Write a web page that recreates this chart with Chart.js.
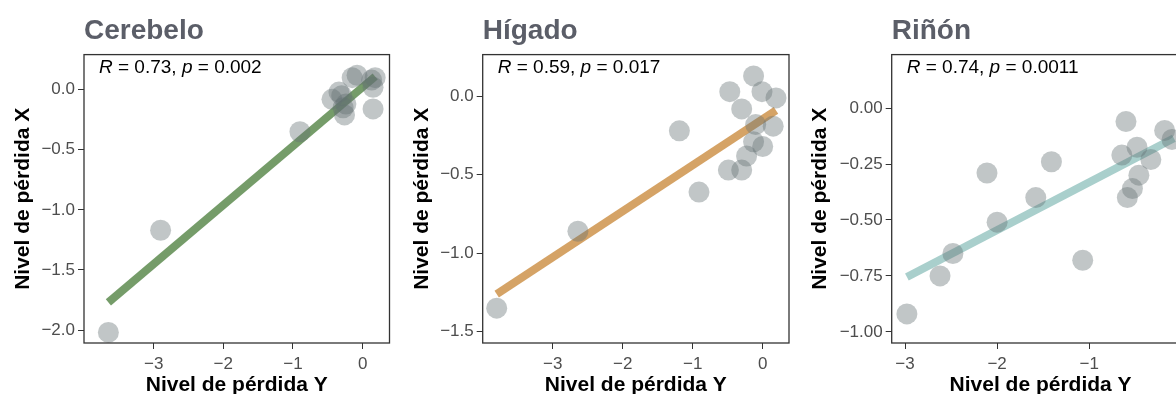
<!DOCTYPE html>
<html>
<head>
<meta charset="utf-8">
<title>Nivel de pérdida</title>
<script src="https://cdn.jsdelivr.net/npm/chart.js@4.4.1/dist/chart.umd.min.js"></script>
<style>
  html, body { margin: 0; padding: 0; background: #fff; overflow: hidden; }
  #fila { position: relative; width: 1176px; height: 394px; overflow: hidden; }
  .panel { position: absolute; top: 0; width: 400px; height: 394px; }
</style>
</head>
<body>
<div id="fila">
  <div class="panel" style="left:0"><canvas id="cerebeloChart"></canvas></div>
  <div class="panel" style="left:400px"><canvas id="higadoChart"></canvas></div>
  <div class="panel" style="left:800px"><canvas id="rinonChart"></canvas></div>
</div>
<script>
// Cerebelo
const cerebeloPerdidaY = [-3.65, -2.90, -0.90, -0.44, -0.34, -0.30, -0.24, -0.26, -0.28, -0.15, -0.08, 0.13, 0.18, 0.15, 0.15];
const cerebeloPerdidaX = [-2.02, -1.17, -0.35, -0.08, -0.02, -0.05, -0.12, -0.21, -0.15, 0.10, 0.12, 0.08, 0.10, 0.02, -0.16];
const cerebeloAjusteY = [-3.65, 0.18];
const cerebeloAjusteX = [-1.77, 0.11];
const cerebeloTicksV = [-2, -1.5, -1, -0.5, 0];

// Hígado
const higadoPerdidaY = [-3.80, -2.64, -1.19, -0.91, -0.47, -0.13, -0.01, 0.19, -0.30, -0.10, 0.15, -0.13, 0.00, -0.23, -0.49, -0.30];
const higadoPerdidaX = [-1.35, -0.86, -0.22, -0.61, 0.03, 0.13, 0.03, -0.01, -0.08, -0.18, -0.19, -0.29, -0.32, -0.38, -0.47, -0.47];
const higadoAjusteY = [-3.80, 0.19];
const higadoAjusteX = [-1.26, -0.09];
const higadoTicksV = [-1.5, -1, -0.5, 0];

// Riñón
const rinonPerdidaY = [-2.98, -2.62, -2.48, -2.11, -2.00, -1.58, -1.41, -1.07, -0.60, -0.645, -0.48, -0.33, -0.46, -0.53, -0.585, -0.18, -0.10];
const rinonPerdidaX = [-0.92, -0.75, -0.65, -0.29, -0.51, -0.40, -0.24, -0.68, -0.06, -0.21, -0.175, -0.23, -0.30, -0.36, -0.40, -0.10, -0.14];
const rinonAjusteY = [-2.98, -0.08];
const rinonAjusteX = [-0.755, -0.135];
const rinonTicksV = [-1, -0.75, -0.5, -0.25, 0];

// shared horizontal ticks and correlation labels
const ticksH = [-3, -2, -1, 0];
const corR = ['0.73', '0.59', '0.74'];
const corP = ['0.002', '0.017', '0.0011'];

Chart.defaults.font.family = '"Liberation Sans", Arial, Helvetica, sans-serif';

const menos = (txt) => txt.replace('-', '\u2212');

// box around the plotting area
const marcoPanel = {
  id: 'marcoPanel',
  afterDatasetsDraw(chart) {
    const { ctx, chartArea: { left, top, right, bottom } } = chart;
    ctx.save();
    ctx.strokeStyle = '#333333';
    ctx.lineWidth = 1.3;
    ctx.strokeRect(left, top, right - left, bottom - top);
    ctx.restore();
  }
};

// "R = .., p = .." with italic R and p
const etiquetaCor = {
  id: 'etiquetaCor',
  afterDraw(chart, args, opts) {
    const { ctx, chartArea } = chart;
    const partes = [['italic', 'R'], ['normal', ' = ' + opts.r + ', '], ['italic', 'p'], ['normal', ' = ' + opts.p]];
    let x = chartArea.left + 15;
    const y = chartArea.top + 18.5;
    ctx.save();
    ctx.fillStyle = '#000000';
    ctx.textBaseline = 'alphabetic';
    partes.forEach(([estilo, txt]) => {
      ctx.font = estilo + ' 19px "Liberation Sans", Arial, sans-serif';
      ctx.fillText(txt, x, y);
      x += ctx.measureText(txt).width;
    });
    ctx.restore();
  }
};

function crearPanel(id, cfg) {
  const puntos = cfg.puntosY.map((v, i) => ({ x: v, y: cfg.puntosX[i] }));
  const ajuste = cfg.ajusteY.map((v, i) => ({ x: v, y: cfg.ajusteX[i] }));

  return new Chart(document.getElementById(id), {
    type: 'scatter',
    data: {
      datasets: [
        {
          data: puntos,
          backgroundColor: 'rgba(100, 112, 116, 0.4)',
          borderWidth: 0,
          pointRadius: 10.5,
          pointHoverRadius: 10.5
        },
        {
          data: ajuste,
          showLine: true,
          borderColor: cfg.color,
          borderWidth: 8,
          pointRadius: 0,
          fill: false
        }
      ]
    },
    options: {
      responsive: true,
      maintainAspectRatio: false,
      animation: false,
      layout: { padding: { left: 0, right: cfg.derecha, top: 0, bottom: 0 } },
      plugins: {
        legend: { display: false },
        tooltip: { enabled: false },
        title: {
          display: true,
          text: cfg.titulo,
          align: 'start',
          fullSize: false,
          color: '#5b5e68',
          font: { size: 28, weight: 'bold' },
          padding: { top: 14, bottom: 7 }
        },
        etiquetaCor: { r: cfg.r, p: cfg.p }
      },
      scales: {
        x: {
          type: 'linear',
          min: cfg.xMin,
          max: cfg.xMax,
          afterBuildTicks: (axis) => { axis.ticks = ticksH.map((v) => ({ value: v })); },
          afterFit: (scale) => { scale.height = 51; },
          border: { display: false },
          grid: { drawOnChartArea: false, drawTicks: true, tickLength: 6, tickColor: '#333333' },
          ticks: {
            color: '#4d4d4d',
            font: { size: 17 },
            padding: 5,
            maxRotation: 0,
            callback: (v) => menos(String(v))
          },
          title: {
            display: true,
            text: 'Nivel de pérdida Y',
            color: '#000000',
            font: { size: 21, weight: 'bold', lineHeight: 1 },
            padding: { top: 0, bottom: -1.5 }
          }
        },
        y: {
          type: 'linear',
          min: cfg.yMin,
          max: cfg.yMax,
          afterBuildTicks: (axis) => { axis.ticks = cfg.ticksV.map((v) => ({ value: v })); },
          afterFit: (scale) => { scale.width = cfg.anchoY; },
          border: { display: false },
          grid: { drawOnChartArea: false, drawTicks: true, tickLength: 6, tickColor: '#333333' },
          ticks: {
            color: '#4d4d4d',
            font: { size: 17 },
            padding: 3,
            callback: (v) => menos(v.toFixed(cfg.decimales))
          },
          title: {
            display: true,
            text: 'Nivel de pérdida X',
            color: '#000000',
            font: { size: 21, weight: 'bold', lineHeight: 1.2 },
            padding: { top: cfg.tituloY, bottom: 0 }
          }
        }
      }
    },
    plugins: [marcoPanel, etiquetaCor]
  });
}

crearPanel('cerebeloChart', {
  titulo: 'Cerebelo',
  puntosY: cerebeloPerdidaY, puntosX: cerebeloPerdidaX,
  ajusteY: cerebeloAjusteY, ajusteX: cerebeloAjusteX,
  color: '#759c69',
  xMin: -4.0, xMax: 0.386, yMin: -2.108, yMax: 0.292,
  ticksV: cerebeloTicksV, decimales: 1,
  anchoY: 84, derecha: 9, tituloY: 11,
  r: corR[0], p: corP[0]
});

crearPanel('higadoChart', {
  titulo: 'Hígado',
  puntosY: higadoPerdidaY, puntosX: higadoPerdidaX,
  ajusteY: higadoAjusteY, ajusteX: higadoAjusteX,
  color: '#d5a366',
  xMin: -4.0, xMax: 0.376, yMin: -1.572, yMax: 0.266,
  ticksV: higadoTicksV, decimales: 1,
  anchoY: 82.7, derecha: 11, tituloY: 10,
  r: corR[1], p: corP[1]
});

crearPanel('rinonChart', {
  titulo: 'Riñón',
  puntosY: rinonPerdidaY, puntosX: rinonPerdidaX,
  ajusteY: rinonAjusteY, ajusteX: rinonAjusteX,
  color: '#a9cfcc',
  xMin: -3.145, xMax: 0.09, yMin: -1.05, yMax: 0.239,
  ticksV: rinonTicksV, decimales: 2,
  anchoY: 91.7, derecha: 10, tituloY: 8,
  r: corR[2], p: corP[2]
});
</script>
</body>
</html>
